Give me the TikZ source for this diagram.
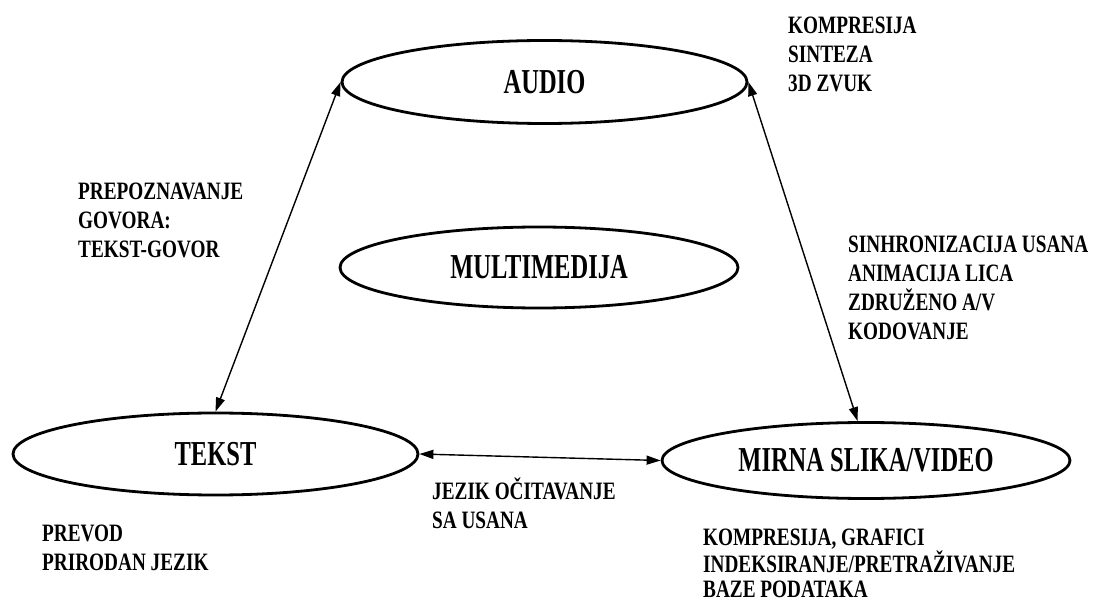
\documentclass[tikz,border=0pt]{standalone}
\usepackage{fontspec}
\usepackage{tikz}
\usetikzlibrary{shapes.geometric,arrows.meta}
\newfontfamily\mediafont[FakeStretch=0.70]{Liberation Serif}
\newfontfamily\notefont[FakeStretch=0.77]{Liberation Serif}
\tikzset{
  medium/.style={ellipse,draw=black,line width=2.8pt,inner sep=0pt,fill=white,font=\mediafont\bfseries\fontsize{35}{40}\selectfont},
  note/.style={anchor=north west,inner sep=0pt,align=left,font=\notefont\bfseries\fontsize{25}{28.8}\selectfont},
  link/.style={{Triangle[length=14pt,width=9pt]}-{Triangle[length=14pt,width=9pt]},line width=1.4pt,draw=black}
}
\begin{document}
\begin{tikzpicture}[x=1pt,y=-1pt]
\useasboundingbox (0,0) rectangle (1096,604);
% media
\node[medium,minimum width=405pt,minimum height=83pt] (audio) at (544.5,82) {AUDIO};
\node[medium,minimum width=398pt,minimum height=81pt] (multi) at (539,267.5) {MULTIMEDIJA};
\node[medium,minimum width=405pt,minimum height=82pt] (tekst) at (215.5,454) {TEKST};
\node[medium,minimum width=408pt,minimum height=76pt] (slika) at (866,460.5) {MIRNA SLIKA/VIDEO};

\draw[link] (audio.west) -- (tekst.north);
\draw[link] (audio.east) -- (slika.102);
\draw[link] (tekst.east) -- (slika.west);

% opisi
\node[note] (audionote) at (788,17) {KOMPRESIJA\\SINTEZA\\3D ZVUK};
\node[note] (govor) at (78,183) {PREPOZNAVANJE\\GOVORA:\\TEKST-GOVOR};
\node[note] (sinhro) at (848,236) {SINHRONIZACIJA USANA\\ANIMACIJA LICA\\ZDRUŽENO A/V\\KODOVANJE};
\node[note] (citanje) at (432,478) {JEZIK OČITAVANJE\\SA USANA};
\node[note] (prevod) at (42,525) {PREVOD\\PRIRODAN JEZIK};
\node[note,font=\notefont\bfseries\fontsize{25}{25.5}\selectfont] (slikanote) at (703,529)
{KOMPRESIJA, GRAFICI\\INDEKSIRANJE/PRETRAŽIVANJE\\BAZE PODATAKA};
\end{tikzpicture}
\end{document}
